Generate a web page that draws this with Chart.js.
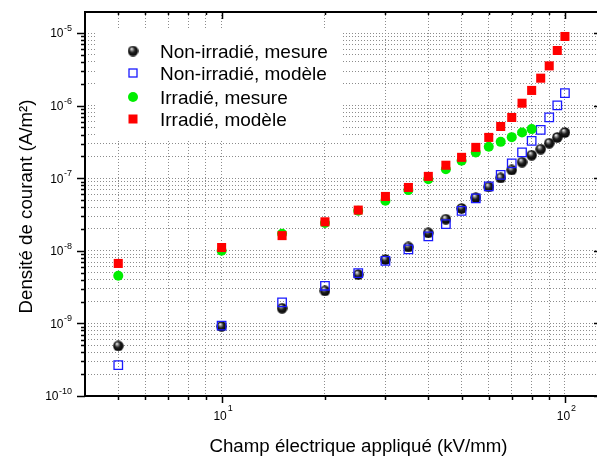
<!DOCTYPE html>
<html lang="fr">
<head>
    <meta charset="UTF-8">
    <title>Densité de courant</title>
    <script src="https://cdn.jsdelivr.net/npm/chart.js"></script>
    <style>
        html, body { margin: 0; padding: 0; background: #fff; overflow: hidden; }
        .chart-box { width: 597px; height: 461px; position: relative; }
    </style>
</head>
<body>
    <div class="chart-box"><canvas id="jChart"></canvas></div>

    <script>
        // Champ électrique (kV/mm)
        const champ = [5, 10, 15, 20, 25, 30, 35, 40, 45, 50, 55, 60, 65, 70, 75, 80, 85, 90, 95, 100];

        // Densité de courant (A/m2)
        const nonIrrMesure = [4.9e-10, 9.1e-10, 1.62e-9, 2.81e-9, 4.7e-9, 7.6e-9, 1.13e-8, 1.77e-8, 2.73e-8, 3.84e-8,
                              5.4e-8, 7.6e-8, 1.01e-7, 1.3e-7, 1.67e-7, 2.08e-7, 2.52e-7, 3.04e-7, 3.65e-7, 4.27e-7];
        const nonIrrModele = [2.67e-10, 9.3e-10, 1.95e-9, 3.3e-9, 4.93e-9, 7.28e-9, 1.05e-8, 1.58e-8, 2.33e-8, 3.56e-8,
                              5.27e-8, 7.71e-8, 1.11e-7, 1.6e-7, 2.27e-7, 3.27e-7, 4.64e-7, 6.88e-7, 1.01e-6, 1.49e-6];
        const irrMesure = [4.53e-9, 1.0e-8, 1.72e-8, 2.42e-8, 3.56e-8, 4.89e-8, 6.86e-8, 9.72e-8, 1.33e-7, 1.74e-7,
                           2.26e-7, 2.71e-7, 3.17e-7, 3.68e-7, 4.27e-7, 4.75e-7];
        const irrModele = [6.7e-9, 1.11e-8, 1.62e-8, 2.51e-8, 3.64e-8, 5.61e-8, 7.46e-8, 1.06e-7, 1.51e-7, 1.94e-7,
                           2.66e-7, 3.65e-7, 5.16e-7, 6.87e-7, 1.08e-6, 1.62e-6, 2.39e-6, 3.53e-6, 5.75e-6, 8.97e-6];

        const seriesNames = ['Non-irradié, mesure', 'Non-irradié, modèle', 'Irradié, mesure', 'Irradié, modèle'];
        const xTitle = 'Champ électrique appliqué (kV/mm)';
        const yTitle = 'Densité de courant (A/m²)';

        // axes (the right edge of the frame is cut by the picture)
        const xMin = 4, xMax = 124;
        const yMin = 1e-10, yMax = 1.95e-5;
        const xTickVals = [5, 6, 7, 8, 9, 10, 20, 30, 40, 50, 60, 70, 80, 90, 100];
        const xMajor = [10, 100];
        const xMajorExp = ['1', '2'];
        const yMajor = [1e-10, 1e-9, 1e-8, 1e-7, 1e-6, 1e-5];
        const yMajorExp = ['-10', '-9', '-8', '-7', '-6', '-5'];
        const yTickVals = [];
        yMajor.forEach(d => {
            for (let m = 1; m <= 9; m++) {
                const v = m * d;
                if (v <= yMax) yTickVals.push(v);
            }
        });

        const FONT = '"Liberation Sans", Arial, sans-serif';

        function toPoints(arr) {
            return arr.map((v, i) => ({ x: champ[i], y: v }));
        }

        // shaded black ball
        function makeSphere(d) {
            const c = document.createElement('canvas');
            c.width = d; c.height = d;
            const g = c.getContext('2d');
            const r = d / 2;
            const grad = g.createRadialGradient(r - 1.6, r - 2.4, 0.2, r, r, r);
            grad.addColorStop(0, '#ffffff');
            grad.addColorStop(0.2, '#9a9a9a');
            grad.addColorStop(0.5, '#202020');
            grad.addColorStop(1, '#000000');
            g.fillStyle = grad;
            g.beginPath();
            g.arc(r, r, r - 0.3, 0, Math.PI * 2);
            g.fill();
            return c;
        }
        const sphere = makeSphere(11);

        const isMajorY = v => yMajor.some(m => Math.abs(m - v) / m < 1e-6);

        // legend inside the plot, tick marks, labels and titles
        const decor = {
            id: 'decor',
            beforeDatasetsDraw(chart) {
                const ctx = chart.ctx;
                ctx.save();
                ctx.fillStyle = '#fff';
                ctx.fillRect(96, 28, 247, 111);
                const rows = [51, 73, 97, 119];
                const mx = 133;
                ctx.drawImage(sphere, mx - 5.5, rows[0] - 5.5);
                ctx.strokeStyle = '#1a1aff'; ctx.lineWidth = 1.3;
                ctx.strokeRect(mx - 4, rows[1] - 4, 8, 8);
                ctx.fillStyle = '#00ee00';
                ctx.beginPath(); ctx.arc(mx, rows[2], 5, 0, Math.PI * 2); ctx.fill();
                ctx.fillStyle = '#ff0000';
                ctx.fillRect(mx - 4.5, rows[3] - 4.5, 9, 9);
                ctx.fillStyle = '#000';
                ctx.font = '19px ' + FONT;
                ctx.textBaseline = 'alphabetic';
                ctx.textAlign = 'left';
                seriesNames.forEach((n, i) => ctx.fillText(n, 160, rows[i] + 7.3));
                ctx.restore();
            },
            afterDraw(chart) {
                const { ctx, chartArea: a, scales: { x, y } } = chart;
                const rightAxis = a.right + 5; // just outside the picture
                ctx.save();
                ctx.strokeStyle = '#000';
                ctx.lineWidth = 2;
                ctx.strokeRect(a.left, a.top, rightAxis - a.left, a.bottom - a.top);

                ctx.lineWidth = 1.5;
                ctx.beginPath();
                yTickVals.forEach(v => {
                    const py = Math.round(y.getPixelForValue(v)) + 0.5;
                    const len = isMajorY(v) ? 8 : 4;
                    ctx.moveTo(a.left - len, py); ctx.lineTo(a.left, py);
                    ctx.moveTo(rightAxis - len, py); ctx.lineTo(rightAxis, py);
                });
                xTickVals.forEach(v => {
                    const px = Math.round(x.getPixelForValue(v)) + 0.5;
                    const major = xMajor.includes(v);
                    ctx.moveTo(px, a.bottom); ctx.lineTo(px, a.bottom + (major ? 7 : 4));
                    ctx.moveTo(px, a.top); ctx.lineTo(px, a.top + (major ? 7 : 3));
                });
                ctx.stroke();

                ctx.fillStyle = '#000';
                ctx.textBaseline = 'middle';
                // y labels
                yMajor.forEach((v, i) => {
                    const py = y.getPixelForValue(v);
                    ctx.font = '9px ' + FONT;
                    ctx.textAlign = 'right';
                    const ew = ctx.measureText(yMajorExp[i]).width;
                    ctx.fillText(yMajorExp[i], a.left - 13, py - 4.5);
                    ctx.font = '12px ' + FONT;
                    ctx.fillText('10', a.left - 13 - ew - 0.5, py + 1);
                });
                // x labels
                xMajor.forEach((v, i) => {
                    const px = x.getPixelForValue(v);
                    ctx.font = '12px ' + FONT;
                    const bw = ctx.measureText('10').width;
                    ctx.font = '9px ' + FONT;
                    const ew = ctx.measureText(xMajorExp[i]).width;
                    const start = px - (bw + ew) / 2 + 1;
                    ctx.textAlign = 'left';
                    ctx.fillText(xMajorExp[i], start + bw + 1, a.bottom + 13);
                    ctx.font = '12px ' + FONT;
                    ctx.fillText('10', start, a.bottom + 21);
                });

                // axis titles
                ctx.font = '18.7px ' + FONT;
                ctx.textAlign = 'center';
                ctx.textBaseline = 'alphabetic';
                ctx.fillText(xTitle, 358.5, 452);
                ctx.translate(32, 206.5);
                ctx.rotate(-Math.PI / 2);
                ctx.fillText(yTitle, 0, 0);
                ctx.restore();
            }
        };

        const gridStyle = { color: '#8c8c8c', lineWidth: 1, drawTicks: false };
        const borderStyle = { display: false, dash: [1, 2] };

        new Chart(document.getElementById('jChart'), {
            type: 'scatter',
            data: {
                datasets: [
                    {
                        label: seriesNames[0],
                        data: toPoints(nonIrrMesure),
                        pointStyle: sphere,
                        pointRadius: 5.5,
                        order: 4
                    },
                    {
                        label: seriesNames[1],
                        data: toPoints(nonIrrModele),
                        pointStyle: 'rect',
                        pointRadius: 6,
                        borderColor: '#1a1aff',
                        backgroundColor: 'rgba(255,255,255,0)',
                        borderWidth: 1.3,
                        order: 3
                    },
                    {
                        label: seriesNames[2],
                        data: toPoints(irrMesure),
                        pointStyle: 'circle',
                        pointRadius: 5,
                        borderWidth: 0,
                        backgroundColor: '#00ee00',
                        borderColor: '#00ee00',
                        order: 2
                    },
                    {
                        label: seriesNames[3],
                        data: toPoints(irrModele),
                        pointStyle: 'rect',
                        pointRadius: 6.4,
                        borderWidth: 0,
                        backgroundColor: '#ff0000',
                        borderColor: '#ff0000',
                        order: 1
                    }
                ]
            },
            options: {
                responsive: true,
                maintainAspectRatio: false,
                animation: false,
                events: [],
                layout: { autoPadding: false, padding: { top: 12, right: 0, left: 0, bottom: 0 } },
                plugins: {
                    legend: { display: false },
                    tooltip: { enabled: false }
                },
                scales: {
                    x: {
                        type: 'logarithmic',
                        min: xMin,
                        max: xMax,
                        bounds: 'data',
                        afterFit: s => { s.height = 65; },
                        afterBuildTicks: s => { s.ticks = xTickVals.map(v => ({ value: v })); },
                        ticks: { display: false },
                        grid: gridStyle,
                        border: borderStyle,
                        title: { display: false, text: xTitle }
                    },
                    y: {
                        type: 'logarithmic',
                        min: yMin,
                        max: yMax,
                        bounds: 'data',
                        afterFit: s => { s.width = 85; },
                        afterBuildTicks: s => { s.ticks = yTickVals.map(v => ({ value: v })); },
                        ticks: { display: false },
                        grid: gridStyle,
                        border: borderStyle,
                        title: { display: false, text: yTitle }
                    }
                }
            },
            plugins: [decor]
        });
    </script>
</body>
</html>
